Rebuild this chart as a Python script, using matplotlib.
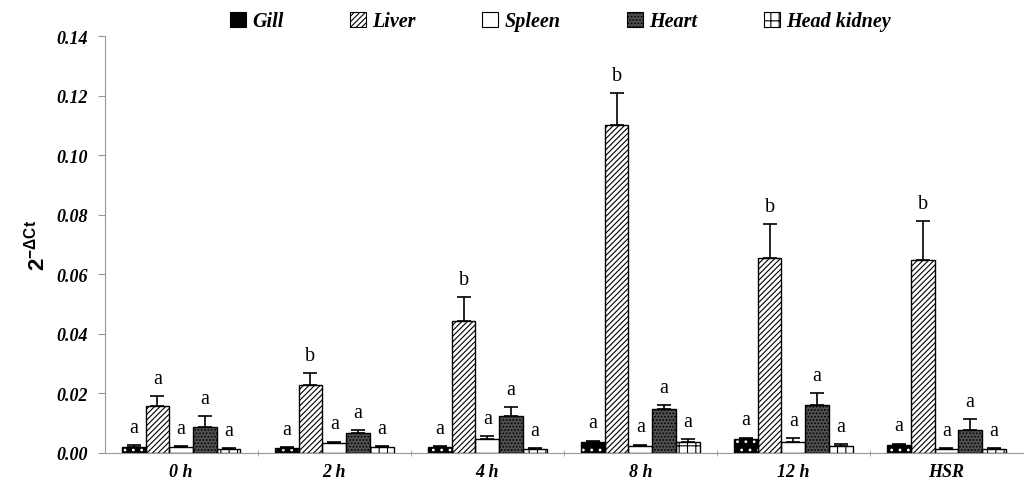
import matplotlib.pyplot as plt
import numpy as np

plt.rcParams['font.family'] = ['Liberation Serif', 'DejaVu Serif']
plt.rcParams['hatch.linewidth'] = 0.8
plt.rcParams['mathtext.fontset'] = 'custom'
plt.rcParams['mathtext.rm'] = 'Liberation Sans:bold'
plt.rcParams['mathtext.bf'] = 'Liberation Sans:bold'
plt.rcParams['mathtext.it'] = 'Liberation Sans:bold'

groups = ['0 h', '2 h', '4 h', '8 h', '12 h', 'HSR']
tissues = ['Gill', 'Liver', 'Spleen', 'Heart', 'Head kidney']

gill = [0.0020, 0.0017, 0.0018, 0.0037, 0.0047, 0.0027]
liver = [0.0158, 0.0228, 0.0443, 0.1100, 0.0654, 0.0648]
spleen = [0.0020, 0.0034, 0.0047, 0.0023, 0.0037, 0.0013]
heart = [0.0087, 0.0067, 0.0124, 0.0148, 0.0161, 0.0077]
kidney = [0.0013, 0.0020, 0.0013, 0.0037, 0.0023, 0.0013]

gill_err = [0.0005, 0.0003, 0.0004, 0.0004, 0.0004, 0.0004]
liver_err = [0.0032, 0.0040, 0.0081, 0.0108, 0.0114, 0.0130]
spleen_err = [0.0003, 0.0003, 0.0008, 0.0004, 0.0013, 0.0002]
heart_err = [0.0037, 0.0010, 0.0030, 0.0012, 0.0040, 0.0037]
kidney_err = [0.0003, 0.0003, 0.0003, 0.0009, 0.0005, 0.0003]

letters = [
    ['a', 'a', 'a', 'a', 'a', 'a'],
    ['a', 'b', 'b', 'b', 'b', 'b'],
    ['a', 'a', 'a', 'a', 'a', 'a'],
    ['a', 'a', 'a', 'a', 'a', 'a'],
    ['a', 'a', 'a', 'a', 'a', 'a'],
]

values = [gill, liver, spleen, heart, kidney]
errors = [gill_err, liver_err, spleen_err, heart_err, kidney_err]
# face colour, hatch, hatch colour
styles = [
    ('black', '..', 'white'),
    ('white', '//////', 'black'),
    ('white', '', 'black'),
    ('#505050', '.....', 'black'),
    ('white', '++', 'black'),
]

fig, ax = plt.subplots(figsize=(10.26, 4.89), dpi=100)
fig.subplots_adjust(left=0.102, right=0.997, bottom=0.072, top=0.924)

x = np.arange(len(groups))
w = 0.155
handles = []
for i, (vals, errs) in enumerate(zip(values, errors)):
    fc, hatch, hc = styles[i]
    pos = x + (i - 2) * w
    ax.bar(pos, vals, w, color=fc, edgecolor=hc, hatch=hatch, linewidth=0, zorder=2)
    ax.bar(pos, vals, w, fill=False, edgecolor='black', linewidth=1.0, zorder=3)
    ax.errorbar(pos, vals, yerr=[np.zeros(len(errs)), errs], fmt='none',
                ecolor='black', elinewidth=1.2, capsize=5, capthick=1.2, zorder=4)
    for j in range(len(groups)):
        ax.annotate(letters[i][j], (pos[j], vals[j] + errs[j]), xytext=(0, 6),
                    textcoords='offset points', ha='center', va='bottom', fontsize=14.5)
    proxy = plt.Rectangle((0, 0), 1, 1, facecolor=fc, edgecolor=hc, hatch=hatch, linewidth=0)
    handles.append(proxy)

ax.set_xlim(-0.5, len(groups) - 0.5)
ax.set_ylim(0, 0.14)
ax.set_yticks(np.arange(0, 0.141, 0.02))
ax.set_yticklabels(['%.2f' % v for v in np.arange(0, 0.141, 0.02)],
                   fontsize=13, fontweight='bold', fontstyle='italic')
ax.set_xticks(x)
ax.set_xticklabels(groups, fontsize=13, fontweight='bold', fontstyle='italic')
ax.set_xticks(np.arange(0.5, len(groups) - 0.5, 1), minor=True)
ax.tick_params(axis='x', which='major', length=0, pad=7)
ax.tick_params(axis='x', which='minor', length=4, color='#999999', direction='inout')
ax.tick_params(axis='y', length=5, color='#999999', pad=7)
for s in ['top', 'right']:
    ax.spines[s].set_visible(False)
for s in ['left', 'bottom']:
    ax.spines[s].set_color('#999999')

ax.set_ylabel(r'$\mathbf{2^{-\Delta Ct}}$', fontsize=16, labelpad=5)

leg = fig.legend(handles, tissues, loc='upper center', bbox_to_anchor=(0.546, 1.012),
                 ncol=5, frameon=False, columnspacing=3.3, handlelength=0.8,
                 handleheight=0.8, handletextpad=0.3,
                 prop={'weight': 'bold', 'style': 'italic', 'size': 14.5})
for h in leg.legend_handles:
    h.set_edgecolor('black')
    h.set_linewidth(0.8)

fig.savefig('out.png', dpi=100)
